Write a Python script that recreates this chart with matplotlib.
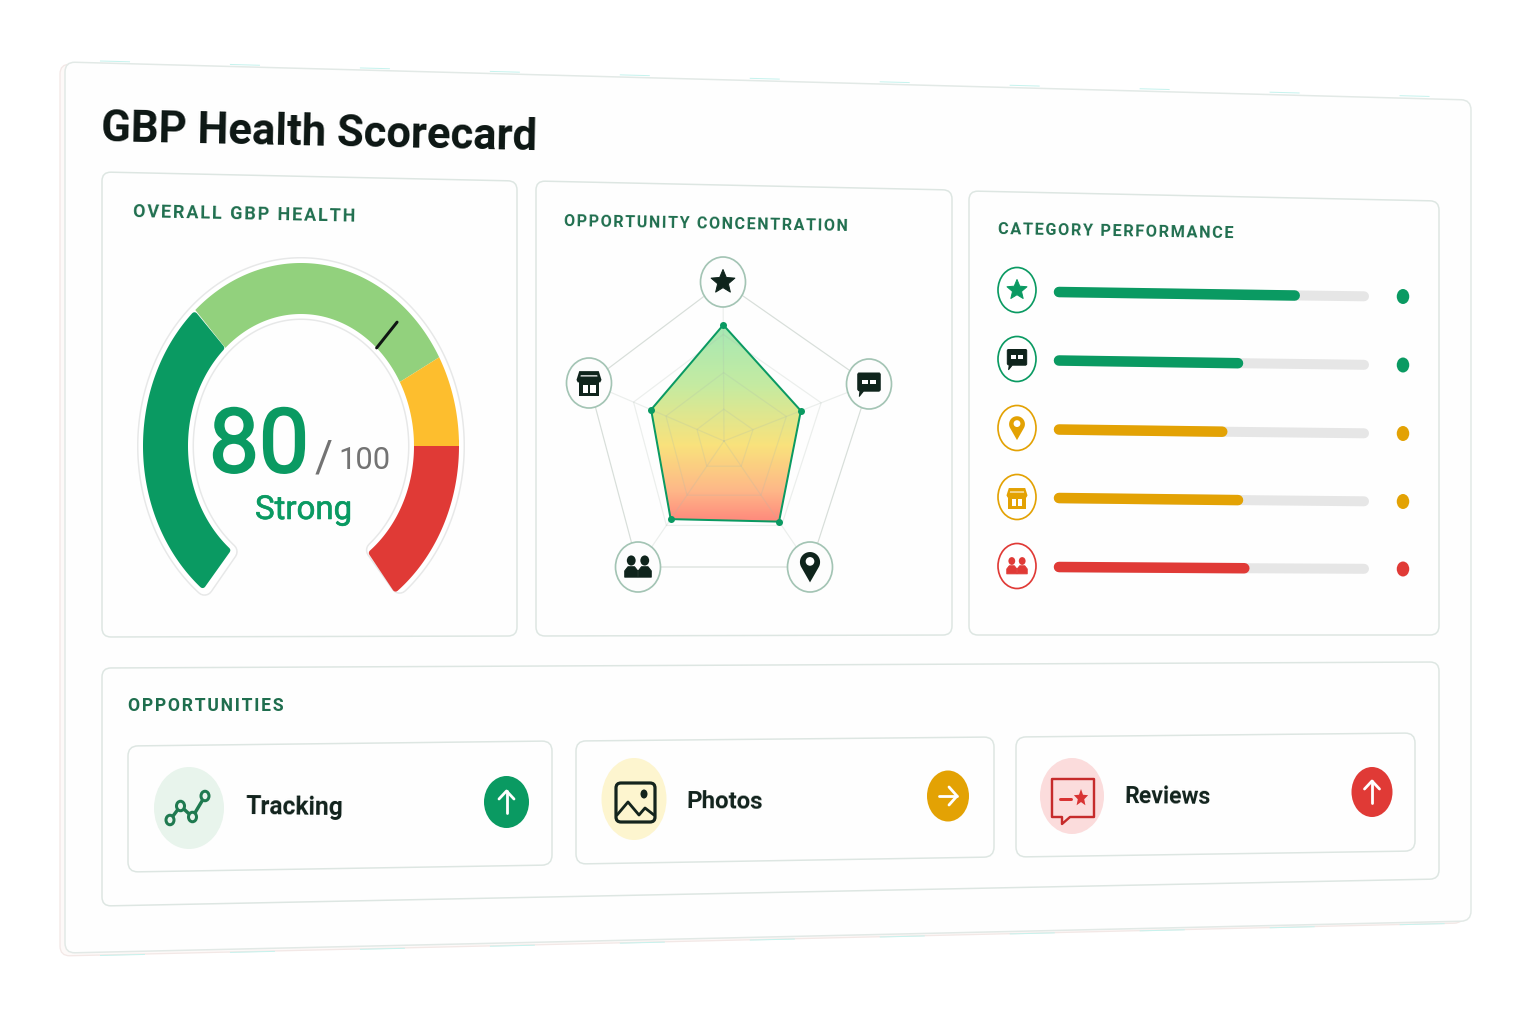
import numpy as np
import matplotlib
matplotlib.use("Agg")
import matplotlib.pyplot as plt
import matplotlib.patheffects as pe
from matplotlib.path import Path
from matplotlib.patches import PathPatch, Polygon, Ellipse
from matplotlib.colors import LinearSegmentedColormap

# ---------- data ----------
title = "GBP Health Scorecard"
gauge_score = 80
gauge_max = 100
gauge_label = "Strong"
gauge_edges_deg = [232, 132, 29, 0, -51]
gauge_colors = ["#0A9A62", "#92D17D", "#FDBE2E", "#E03A36"]
gauge_needle_deg = 48

radar_axes = ["star", "chat", "pin", "people", "store"]
radar_values = [73, 53, 64, 62, 54]
radar_grid = [20, 43, 67, 100]

bar_icons = ["star", "chat", "pin", "store", "people"]
bar_values = [78, 60, 55, 60, 62]
bar_colors = ["#0A9A62", "#0A9A62", "#E3A204", "#E3A204", "#E03A36"]

opportunities = ["Tracking", "Photos", "Reviews"]
opp_colors = ["#0A9A62", "#E3A204", "#E03A36"]
opp_tints = ["#E8F4EC", "#FDF5CF", "#FBDCDC"]
opp_dirs = ["up", "right", "up"]

section_titles = ["OVERALL GBP HEALTH", "OPPORTUNITY CONCENTRATION",
                  "CATEGORY PERFORMANCE", "OPPORTUNITIES"]

# ---------- canvas ----------
PX = 0.72
fig = plt.figure(figsize=(15.36, 10.24), dpi=100, facecolor="white")
ax = fig.add_axes([0, 0, 1, 1])
ax.set_xlim(0, 1536)
ax.set_ylim(1024, 0)
ax.axis("off")
ax.set_autoscale_on(False)
FONT = ["Roboto", "DejaVu Sans"]
DARK = "#0F241C"
HEAD = "#1F6E4E"
renderer = fig.canvas.get_renderer()


def T(x, y, s, width, rot=0, color=DARK, weight="normal", z=20, start=30, stroke=0):
    t = ax.text(x, y, s, family=FONT, weight=weight, color=color, fontsize=start,
                ha="left", va="baseline", rotation=0, rotation_mode="anchor", zorder=z)
    w = t.get_window_extent(renderer).width
    t.set_fontsize(start * width / w)
    t.set_rotation(rot)
    if stroke:
        t.set_path_effects([pe.withStroke(linewidth=stroke * PX, foreground=color)])
    return t


def spaced(s):
    return "\u200a".join(s).replace(" ", "\u2005")


def rrect(c, r, fc="#FEFEFE", ec="#DDE6E2", lw=1.5, z=2):
    verts, codes = [], []
    n = len(c)
    for i in range(n):
        p = np.array(c[i], float)
        a = np.array(c[i - 1], float)
        b = np.array(c[(i + 1) % n], float)
        pa = p + (a - p) / np.linalg.norm(a - p) * r
        pb = p + (b - p) / np.linalg.norm(b - p) * r
        verts += [tuple(pa), tuple(p), tuple(pb)]
        codes += [Path.LINETO if i else Path.MOVETO, Path.CURVE3, Path.CURVE3]
    verts.append(verts[0])
    codes.append(Path.CLOSEPOLY)
    ax.add_patch(PathPatch(Path(verts, codes), fc=fc, ec=ec, lw=lw * PX, zorder=z))


def ell(cx, cy, w, h, fc="white", ec="none", lw=0, z=6):
    ax.add_patch(Ellipse((cx, cy), w, h, fc=fc, ec=ec, lw=lw * PX, zorder=z))


def poly(pts, fc, z=7, ec="none", lw=0):
    ax.add_patch(Polygon(pts, closed=True, fc=fc, ec=ec, lw=lw * PX, zorder=z, joinstyle="round"))


def line(xs, ys, c, lw, z=7, cap="round"):
    ax.plot(xs, ys, color=c, lw=lw * PX, zorder=z, solid_capstyle=cap, solid_joinstyle="round")


def star_pts(cx, cy, rx, ry):
    a = np.deg2rad(np.arange(10) * 36 - 90)
    r = np.where(np.arange(10) % 2 == 0, 1.0, 0.45)
    return np.c_[cx + rx * r * np.cos(a), cy + ry * r * np.sin(a)]


def icon(name, cx, cy, s, color, hole="white"):
    P = lambda pts: [(cx + s * a, cy + s * b) for a, b in pts]
    if name == "star":
        poly(star_pts(cx, cy, s, s), color, ec=color, lw=1)
    elif name == "chat":
        poly(P([(-.95, -1), (.95, -1), (1.02, -.9), (1.02, .55), (.92, .65), (-.5, .65), (-.88, 1.12),
                (-.82, .65), (-.95, .6), (-1.02, .5), (-1.02, -.9)]), color, ec=color, lw=1)
        poly(P([(-.6, -.4), (-.08, -.4), (-.08, .02), (-.6, .02)]), hole, z=8)
        poly(P([(.12, -.4), (.66, -.4), (.66, .02), (.12, .02)]), hole, z=8)
    elif name == "pin":
        t = np.linspace(np.deg2rad(150), np.deg2rad(390), 40)
        pts = [(0.72 * np.cos(a), -0.35 + 0.72 * np.sin(a)) for a in t]
        poly(P(pts + [(0, 1.1)]), color)
        ell(cx, cy - .4 * s, .62 * s, .62 * s, fc=hole, z=8)
    elif name == "people":
        for sg in (-1, 1):
            off = sg * .52
            ell(cx + off * s, cy - .5 * s, .68 * s, .78 * s, fc=color, z=7)
            poly(P([(off - .5, .78), (off - .5, .3), (off - .25, -.02), (off + .25, -.02),
                    (off + .5, .3), (off + .5, .78)]), color, ec=color, lw=1)
    elif name == "store":
        poly(P([(-.78, -.95), (.78, -.95), (1.0, -.25), (.9, -.05), (-.9, -.05), (-1.0, -.25)]), color)
        poly(P([(-.66, -.62), (.66, -.62), (.68, -.52), (-.68, -.52)]), hole, z=8)
        poly(P([(-.82, -.1), (.82, -.1), (.82, 1), (-.82, 1)]), color)
        poly(P([(-.52, .12), (-.08, .12), (-.08, .78), (-.52, .78)]), hole, z=8)
        poly(P([(.08, .12), (.52, .12), (.52, .78), (.08, .78)]), hole, z=8)


# ---------- cards ----------
rrect([(60, 64), (1464, 102), (1464, 923), (60, 956)], 10, fc="#FDF9F8", ec="#F3E8E6", lw=1.3, z=0)
rrect([(65, 62), (1471, 100), (1471, 921), (65, 953)], 10, fc="#FEFEFE", ec="#E2E9E6", lw=1.5, z=1)
ax.plot([100, 1450], [955.5, 923.5], color="#C6F3EE", lw=1 * PX, linestyle=(0, (45, 85)), zorder=0.5)
ax.plot([100, 1450], [61, 97], color="#C6F3EE", lw=1 * PX, linestyle=(0, (30, 100)), zorder=0.5)
rrect([(102, 172), (517, 181), (517, 636), (102, 637)], 9)
rrect([(536, 181), (952, 190), (952, 635), (536, 636)], 9)
rrect([(969, 191), (1439, 201), (1439, 635), (969, 635)], 9)
rrect([(102, 668), (1439, 662), (1439, 879), (102, 906)], 9)
rrect([(128, 746), (552, 741), (552, 865), (128, 872)], 10, z=3)
rrect([(576, 741), (994, 737), (994, 857), (576, 864)], 10, z=3)
rrect([(1016, 737), (1415, 733), (1415, 851), (1016, 857)], 10, z=3)

# ---------- titles ----------
T(101, 141, title, 437, rot=-1.2, color="#0C1613", weight="bold", start=44)
T(133, 217, spaced(section_titles[0]), 222, rot=-1.2, color=HEAD, weight="bold", start=13)
T(564, 226, spaced(section_titles[1]), 282, rot=-1.0, color=HEAD, weight="bold", start=13)
T(998, 234, spaced(section_titles[2]), 236, rot=-1.0, color=HEAD, weight="bold", start=13)
T(128, 711, spaced(section_titles[3]), 155, rot=0, color=HEAD, weight="bold", start=13)

# ---------- gauge ----------
GX, GY = 301, 446
RO = (158, 183)
RI = (113, 132)


def ring(a0, a1, n=120, ins=0.0):
    t = np.deg2rad(np.linspace(a0, a1, n))
    o = np.c_[GX + (RO[0] - ins) * np.cos(t), GY - (RO[1] - ins) * np.sin(t)]
    i = np.c_[GX + (RI[0] + ins) * np.cos(t), GY - (RI[1] + ins) * np.sin(t)]
    return np.vstack([o, i[::-1]])


whole = ring(gauge_edges_deg[0] - 0.5, gauge_edges_deg[-1] + 0.5, 240, ins=3)
ax.add_patch(Polygon(whole, closed=True, fc="white", ec="#E7E8E8", lw=18 * PX, joinstyle="round", zorder=3))
ax.add_patch(Polygon(whole, closed=True, fc="white", ec="white", lw=15 * PX, joinstyle="round", zorder=3.1))
for k, col in enumerate(gauge_colors):
    if k in (0, len(gauge_colors) - 1):
        step = 1.4 if k == 0 else -1.4
        pts = ring(gauge_edges_deg[k] - step, gauge_edges_deg[k + 1] + step, ins=3)
        ax.add_patch(Polygon(pts, closed=True, fc=col, ec=col, lw=6 * PX, joinstyle="round", zorder=4))
    else:
        ax.add_patch(Polygon(ring(gauge_edges_deg[k], gauge_edges_deg[k + 1]), closed=True,
                             fc=col, ec="none", zorder=4.5))
na = np.deg2rad(gauge_needle_deg)
frac = 0.68
ax.plot([GX + RI[0] * np.cos(na), GX + (RI[0] + frac * (RO[0] - RI[0])) * np.cos(na)],
        [GY - RI[1] * np.sin(na), GY - (RI[1] + frac * (RO[1] - RI[1])) * np.sin(na)],
        color="#101613", lw=3 * PX, solid_capstyle="round", zorder=6)
T(209, 472, str(gauge_score), 100, color="#0A9A62", start=70, stroke=2.2)
T(315, 471, "/", 18, color="#737373", start=36)
T(338, 469, str(gauge_max), 52, color="#737373", start=30)
T(255, 519, gauge_label, 97, color="#0A9A62", start=30, stroke=0.6)

# ---------- radar ----------
RC = np.array([724.0, 441.0])
tips = np.array([(723, 282), (869, 384), (810, 567), (638, 567), (589, 383)], float)
rv = RC + (tips - RC) * (np.array(radar_values)[:, None] / 100)
cm = LinearSegmentedColormap.from_list(
    "radar", [(0, "#A6E8B4"), (.3, "#C4EBA2"), (.61, "#F9E27C"), (.84, "#FEB888"), (1, "#FF887C")])
im = ax.imshow(np.linspace(0, 1, 256).reshape(-1, 1), cmap=cm, vmin=0, vmax=1, origin="upper",
               extent=[rv[:, 0].min() - 2, rv[:, 0].max() + 2, rv[:, 1].max(), rv[:, 1].min()],
               aspect="auto", zorder=3, interpolation="bilinear")
clip = Polygon(rv, closed=True, fc="none", ec="none", zorder=3)
ax.add_patch(clip)
im.set_clip_path(clip)
ax.set_xlim(0, 1536)
ax.set_ylim(1024, 0)
for lv in radar_grid:
    pts = RC + (tips - RC) * (lv / 100)
    pts = np.vstack([pts, pts[0]])
    ax.plot(pts[:, 0], pts[:, 1], color="#A9B8AE", alpha=.22 if lv < 100 else .45, lw=1.2 * PX, zorder=4)
for tip in tips:
    ax.plot([RC[0], tip[0]], [RC[1], tip[1]], color="#A9B8AE", alpha=.22, lw=1.2 * PX, zorder=4)
closed = np.vstack([rv, rv[0]])
ax.plot(closed[:, 0], closed[:, 1], color="#0A9A62", lw=2 * PX, zorder=5, solid_joinstyle="round")
ax.plot(rv[:, 0], rv[:, 1], "o", color="#0A9A62", ms=7 * PX, zorder=6, mew=0)
radar_scale = {"star": 12.5, "chat": 11, "pin": 14, "people": 13, "store": 12.5}
for name, tip in zip(radar_axes, tips):
    ell(tip[0], tip[1], 45, 50, fc="#FDFDFD", ec="#A3C4B4", lw=1.7)
    icon(name, tip[0], tip[1], radar_scale[name], "#0F241C", hole="white")

# ---------- category bars ----------
X0, X1 = 1054, 1369
yl = [292, 360.5, 429.5, 498, 567]
yr = [296.5, 365, 433.5, 501.5, 569]
icy = [290, 359, 428, 497, 566]
bar_scale = {"star": 10.5, "chat": 9.5, "pin": 11, "people": 10, "store": 10.5}
for k, (v, c, nm) in enumerate(zip(bar_values, bar_colors, bar_icons)):
    slope = (yr[k] - yl[k]) / (X1 - X0)
    line([X0 + 5, X1 - 5], [yl[k] + 5 * slope + .3, yr[k] - .2], "#E6E6E6", 10, z=4)
    xe = X0 + (X1 - X0) * v / 100
    line([X0 + 5, xe - 5], [yl[k], yl[k] + (xe - X0) * slope], c, 10.5, z=5)
    ell(1403, yr[k], 12.5, 15, fc=c)
    ell(1017, icy[k], 38, 45, fc="#FFFFFF", ec=c, lw=1.7)
    icon(nm, 1017, icy[k] + (1 if nm == "store" else 0), bar_scale[nm], "#0F241C" if nm == "chat" else c)

# ---------- opportunities ----------
blob_x = [189, 634, 1072]
blob_y = [808, 799, 796]
blob_w = [70, 65, 64]
blob_h = [82, 82, 76]
name_x = [246, 687, 1124]
name_y = [814, 808, 803]
name_w = [98, 77, 86]
arr_x = [506.5, 948, 1372]
arr_y = [802, 796, 792]
arr_w = [45, 42, 41]
arr_h = [52, 51, 50]
for k, nm in enumerate(opportunities):
    ell(blob_x[k], blob_y[k], blob_w[k], blob_h[k], fc=opp_tints[k], z=5)
    T(name_x[k], name_y[k], nm, name_w[k], rot=-0.6, color="#11221C", start=26, weight="bold")
    ell(arr_x[k], arr_y[k], arr_w[k], arr_h[k], fc=opp_colors[k], z=5)
    ax_, ay_ = arr_x[k], arr_y[k]
    if opp_dirs[k] == "up":
        line([ax_, ax_], [ay_ + 11, ay_ - 11], "white", 2.8, z=7)
        line([ax_ - 7.5, ax_, ax_ + 7.5], [ay_ - 3, ay_ - 11, ay_ - 3], "white", 2.8, z=7)
    else:
        line([ax_ - 9, ax_ + 9], [ay_, ay_], "white", 2.8, z=7)
        line([ax_ + 1, ax_ + 9, ax_ + 1], [ay_ - 9, ay_, ay_ + 9], "white", 2.8, z=7)

# tracking trend icon
tx, ty = [170, 180.5, 192.5, 205], [820, 806, 817, 796]
line(tx, ty, "#1F7A50", 3.4, z=7)
for a, b in zip(tx, ty):
    ell(a, b, 8, 9.5, fc="#E8F4EC", ec="#1F7A50", lw=3, z=8)

# photo icon
rrect([(616, 783), (655, 783), (655, 822), (616, 822)], 5, fc="none", ec="#14241D", lw=3.2, z=7)
line([617, 628, 639, 645, 654], [815, 802, 815, 808, 815], "#14241D", 2.8, z=7)
ell(644, 794, 7, 9, fc="#14241D", z=7)

# review bubble icon
bubble = [(1052, 779), (1094, 779), (1094, 817), (1070, 817), (1062, 824), (1062, 817), (1052, 817)]
ax.add_patch(Polygon(bubble, closed=True, fc="none", ec="#C62B2B", lw=2.4 * PX, joinstyle="round", zorder=7))
line([1060, 1071], [799, 799], "#D93333", 3, z=7)
poly(star_pts(1081, 798, 7.5, 9), "#D93333")

fig.savefig("out.png", dpi=100, facecolor="white")
